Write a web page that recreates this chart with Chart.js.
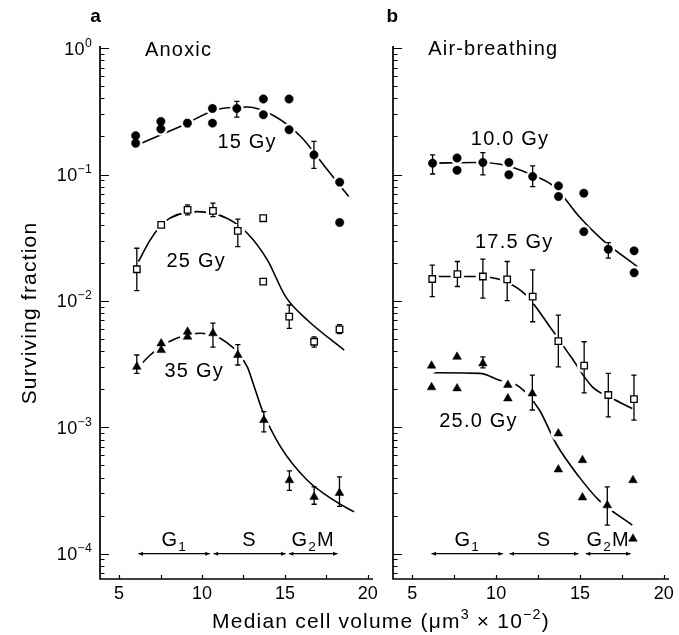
<!DOCTYPE html>
<html><head><meta charset="utf-8">
<script src="https://cdn.jsdelivr.net/npm/chart.js@4"></script>
<style>
html,body{margin:0;padding:0;background:#fff;}
#wrap{position:relative;width:679px;height:635px;overflow:hidden;}
#ca{position:absolute;left:0;top:0;}
#cb{position:absolute;left:380px;top:0;}
</style></head><body>
<div id="wrap"><canvas id="ca" width="679" height="635"></canvas><canvas id="cb" width="299" height="635"></canvas></div>
<script>
// ---------- DATA ----------
const xTickValues = [5, 7.5, 10, 12.5, 15, 17.5, 20];
const xTickLabels = ['5', '', '10', '', '15', '', '20'];
const yTickValues = [1, 0.1, 0.01, 0.001, 0.0001];
const yTickLabels = ['10^{0}', '10^{−1}', '10^{−2}', '10^{−3}', '10^{−4}'];

// Panel a: Anoxic
const a15x = [6.0, 6.0, 7.52, 7.52, 9.12, 10.63, 10.63, 12.1, 13.7, 13.7, 15.25, 15.25, 16.75, 18.3, 18.3];
const a15y = [0.203, 0.177, 0.263, 0.229, 0.255, 0.333, 0.255, 0.333, 0.396, 0.297, 0.396, 0.226, 0.143, 0.087, 0.0417];
const a15err = [null, null, null, null, [0.24, 0.27], null, null, [0.285, 0.379], null, null, null, null, [0.112, 0.183], null, null];
const a15cx = [6.0, 8.69, 11.1, 12.73, 14.33, 15.95, 17.56, 18.85];
const a15cy = [0.169, 0.240, 0.332, 0.342, 0.292, 0.200, 0.109, 0.067];

const a25x = [6.07, 7.54, 9.13, 10.66, 12.16, 13.69, 13.69, 15.26, 16.76, 18.29];
const a25y = [0.0178, 0.0399, 0.0525, 0.0516, 0.0358, 0.0451, 0.01419, 0.0075, 0.00475, 0.00596];
const a25err = [[0.01205, 0.0261], null, [0.048, 0.0575], [0.0465, 0.0594], [0.0269, 0.0443], null, null, [0.00607, 0.00928], [0.0043, 0.0052], [0.0055, 0.0065]];
const a25cx = [6.17, 6.88, 7.68, 9.7, 11.5, 12.73, 13.94, 15.04, 16.35, 18.57];
const a25cy = [0.0205, 0.0304, 0.0417, 0.0509, 0.0451, 0.0343, 0.0211, 0.0108, 0.00706, 0.00408];

const a35x = [6.07, 7.54, 7.54, 9.13, 9.13, 10.66, 12.16, 13.73, 15.27, 16.76, 18.29];
const a35y = [0.00301, 0.00461, 0.00408, 0.0057, 0.0052, 0.00554, 0.00373, 0.00114, 0.000381, 0.000281, 0.000302];
const a35err = [[0.00267, 0.00373], null, null, null, null, [0.0043, 0.00667], [0.00311, 0.0045], [0.00092, 0.00133], [0.000317, 0.000451], [0.000246, 0.000337], [0.000237, 0.000405]];
const a35cx = [6.27, 6.88, 7.88, 9.9, 11.5, 12.73, 13.0, 13.63, 14.74, 16.35, 17.96, 19.17];
const a35cy = [0.0031, 0.00373, 0.00467, 0.00554, 0.00467, 0.00301, 0.0024, 0.00137, 0.0007, 0.000381, 0.000264, 0.000214];

// Panel b: Air-breathing
const b10x = [6.21, 7.67, 7.67, 9.21, 10.76, 10.76, 12.18, 13.72, 13.72, 15.23, 15.23, 16.69, 18.23, 18.23];
const b10y = [0.123, 0.135, 0.108, 0.1245, 0.1245, 0.0995, 0.0964, 0.0813, 0.067, 0.0712, 0.0353, 0.0256, 0.0249, 0.0167];
const b10err = [[0.101, 0.143], null, null, [0.0995, 0.149], null, null, [0.0803, 0.117], null, null, null, null, [0.0218, 0.0289], null, null];
const b10cx = [6.21, 8.82, 10.5, 11.88, 13.47, 14.95, 16.34, 18.41];
const b10cy = [0.123, 0.1245, 0.119, 0.1026, 0.0803, 0.0465, 0.0304, 0.0187];

const b17x = [6.19, 7.69, 9.21, 10.66, 12.18, 13.71, 15.25, 16.69, 18.22];
const b17y = [0.0149, 0.0163, 0.0156, 0.0148, 0.0108, 0.00481, 0.00307, 0.0018, 0.00167];
const b17err = [[0.0108, 0.0192], [0.013, 0.0205], [0.0105, 0.0214], [0.01004, 0.0205], [0.00684, 0.0176], [0.00301, 0.00773], [0.00187, 0.00475], [0.00121, 0.00267], [0.00114, 0.00259]];
const b17cx = [6.19, 8.82, 9.61, 10.6, 11.79, 13.27, 14.46, 15.74, 16.93, 18.12];
const b17cy = [0.0156, 0.0156, 0.0154, 0.0142, 0.0111, 0.00607, 0.00361, 0.00209, 0.00169, 0.00141];

const b25x = [6.15, 6.15, 7.67, 7.67, 9.21, 10.7, 10.7, 12.16, 13.71, 13.71, 15.15, 15.15, 16.63, 18.16, 18.16];
const b25y = [0.00307, 0.00207, 0.00361, 0.00203, 0.0032, 0.00216, 0.00169, 0.00185, 0.000893, 0.000463, 0.000549, 0.000278, 0.000241, 0.000381, 0.000131];
const b25err = [null, null, null, null, [0.00295, 0.0036], null, null, [0.00137, 0.00259], null, null, null, null, [0.000168, 0.000337], null, null];
const b25cx = [6.25, 9.02, 10.2, 11.39, 12.58, 13.57, 14.95, 16.14, 18.12];
const b25cy = [0.0027, 0.00267, 0.00236, 0.00209, 0.00137, 0.000744, 0.000405, 0.000264, 0.000168];

// Cell-cycle phases
const phaseNames = ['G_{1}', 'S', 'G_{2}M'];
const phaseRangesA = [[6.17, 10.47], [10.7, 15.04], [15.24, 18.17]];
const phaseRangesB = [[6.15, 10.4], [10.8, 14.91], [15.35, 18.02]];

// ---------- HELPERS ----------
const FONT = '"Liberation Sans", Arial, Helvetica, sans-serif';
const zip = (xs, ys) => xs.map((v, i) => ({ x: v, y: ys[i] }));

function drawRich(ctx, str, x, y, size, align, spacing, bold) {
  const parts = [];
  const re = /\^\{([^}]*)\}|_\{([^}]*)\}|([^\^_]+)/g;
  let m;
  while ((m = re.exec(str))) {
    if (m[1] !== undefined) parts.push({ t: m[1], k: 'sup' });
    else if (m[2] !== undefined) parts.push({ t: m[2], k: 'sub' });
    else parts.push({ t: m[3], k: 'n' });
  }
  if ('letterSpacing' in ctx) ctx.letterSpacing = (spacing || 0) + 'px';
  let w = 0;
  parts.forEach(p => {
    p.fs = p.k === 'n' ? size : size * 0.68;
    ctx.font = (bold ? 'bold ' : '') + p.fs + 'px ' + FONT;
    p.w = ctx.measureText(p.t).width;
    w += p.w;
  });
  let cx = align === 'center' ? x - w / 2 : align === 'right' ? x - w : x;
  ctx.textAlign = 'left';
  ctx.textBaseline = 'alphabetic';
  ctx.fillStyle = '#000';
  parts.forEach(p => {
    ctx.font = (bold ? 'bold ' : '') + p.fs + 'px ' + FONT;
    const dy = p.k === 'sup' ? -size * 0.45 : p.k === 'sub' ? size * 0.25 : 0;
    ctx.fillText(p.t, cx, y + dy);
    cx += p.w;
  });
  if ('letterSpacing' in ctx) ctx.letterSpacing = '0px';
}

function seriesSets(xs, ys, errs, cx, cy, style, r, fill) {
  return [
    { data: zip(cx, cy), showLine: true, borderColor: '#000', borderWidth: 1.6, pointRadius: 0,
      cubicInterpolationMode: 'monotone', fill: false, order: 3 },
    { data: zip(xs, ys), showLine: false, pointRadius: r + 2.6, pointStyle: 'circle',
      backgroundColor: '#fff', borderWidth: 0, order: 2 },
    { data: zip(xs, ys), showLine: false, pointRadius: r, pointStyle: style,
      backgroundColor: fill, borderColor: '#000', borderWidth: style === 'rect' ? 1.3 : 0.5,
      errs: errs, order: 1 }
  ];
}

function makePlugin(opts) {
  return {
    id: 'deco' + opts.id,
    beforeDatasetDraw(chart, args) {
      const ds = chart.data.datasets[args.index];
      if (!ds.errs) return;
      const { ctx, scales: { x, y } } = chart;
      ctx.save();
      ctx.strokeStyle = '#000';
      ctx.lineWidth = 1.3;
      ds.errs.forEach((e, i) => {
        if (!e) return;
        const px = x.getPixelForValue(ds.data[i].x);
        const p1 = y.getPixelForValue(e[0]), p2 = y.getPixelForValue(e[1]);
        ctx.beginPath();
        ctx.moveTo(px, p1); ctx.lineTo(px, p2);
        ctx.moveTo(px - 2.6, p1); ctx.lineTo(px + 2.6, p1);
        ctx.moveTo(px - 2.6, p2); ctx.lineTo(px + 2.6, p2);
        ctx.stroke();
      });
      ctx.restore();
    },
    afterDraw(chart) {
      const { ctx, chartArea: { left, right, top, bottom }, scales: { x, y } } = chart;
      ctx.save();
      ctx.strokeStyle = '#000';
      // axes lines
      ctx.lineWidth = 1.7;
      ctx.beginPath();
      ctx.moveTo(left, top); ctx.lineTo(left, bottom); ctx.lineTo(right + 1, bottom);
      ctx.stroke();
      // y ticks (inward)
      ctx.lineWidth = 1.2;
      ctx.beginPath();
      for (let e = -5; e <= 0; e++) {
        for (let mm = 1; mm <= 9; mm++) {
          const v = mm * Math.pow(10, e);
          if (v < y.min || v > y.max) continue;
          const py = Math.round(y.getPixelForValue(v)) + 0.5;
          const len = mm === 1 ? 9 : 4.5;
          ctx.moveTo(left, py); ctx.lineTo(left + len, py);
        }
      }
      // x ticks (inward)
      xTickValues.forEach(v => {
        const px = Math.round(x.getPixelForValue(v)) + 0.5;
        ctx.moveTo(px, bottom); ctx.lineTo(px, bottom - 4);
      });
      ctx.stroke();
      // y tick labels
      if (opts.yLabels) {
        yTickValues.forEach((v, i) => {
          const py = y.getPixelForValue(v);
          drawRich(ctx, yTickLabels[i], left - 8, py + 6.5, 18, 'right', 0.3);
        });
      }
      // phase arrows
      const ay = y.getPixelForValue(1e-4);
      ctx.lineWidth = 1.3;
      opts.phases.forEach((rg, i) => {
        const x1 = x.getPixelForValue(rg[0]), x2 = x.getPixelForValue(rg[1]);
        ctx.beginPath(); ctx.moveTo(x1, ay); ctx.lineTo(x2, ay); ctx.stroke();
        ctx.beginPath();
        ctx.moveTo(x1, ay); ctx.lineTo(x1 + 4.5, ay - 2); ctx.lineTo(x1 + 4.5, ay + 2); ctx.closePath();
        ctx.moveTo(x2, ay); ctx.lineTo(x2 - 4.5, ay - 2); ctx.lineTo(x2 - 4.5, ay + 2); ctx.closePath();
        ctx.fillStyle = '#000'; ctx.fill();
        drawRich(ctx, phaseNames[i], x.getPixelForValue((rg[0] + rg[1]) / 2), y.getPixelForValue(1.15e-4), 20, 'center', 1.2);
      });
      // text annotations
      opts.texts.forEach(t => {
        drawRich(ctx, t.s, x.getPixelForValue(t.x), y.getPixelForValue(t.y), t.size || 20, t.align || 'center', 1.2, t.bold);
      });
      if (opts.extra) opts.extra(ctx, chart);
      ctx.restore();
    }
  };
}

function makeChart(canvas, datasets, yWidth, padRight, plugin) {
  return new Chart(canvas, {
    type: 'scatter',
    data: { datasets },
    options: {
      responsive: false, animation: false, devicePixelRatio: 1,
      layout: { padding: { top: 46, right: padRight, bottom: 0, left: 0 } },
      plugins: { legend: { display: false }, tooltip: { enabled: false } },
      scales: {
        x: {
          type: 'linear', min: 3.85, max: 20.25,
          grid: { display: false, drawTicks: false }, border: { display: false },
          afterBuildTicks: s => { s.ticks = xTickValues.map(v => ({ value: v })); },
          ticks: {
            autoSkip: false, maxRotation: 0, padding: 4, color: '#000',
            font: { family: FONT, size: 18 },
            callback: (v) => { const i = xTickValues.indexOf(v); return i >= 0 ? xTickLabels[i] : ''; }
          },
          afterFit: s => { s.height = 56; }
        },
        y: {
          type: 'logarithmic', min: 6.3e-5, max: 1.04,
          grid: { display: false }, border: { display: false },
          ticks: { display: false },
          afterFit: s => { s.width = yWidth; }
        }
      }
    },
    plugins: [plugin]
  });
}

// ---------- PANEL A ----------
const dsA = [].concat(
  seriesSets(a15x, a15y, a15err, a15cx, a15cy, 'circle', 4.2, '#000'),
  seriesSets(a25x, a25y, a25err, a25cx, a25cy, 'rect', 4.6, '#fff'),
  seriesSets(a35x, a35y, a35err, a35cx, a35cy, 'triangle', 5.0, '#000')
);
makeChart(document.getElementById('ca'), dsA, 100, 307, makePlugin({
  id: 'A', yLabels: true, phases: phaseRangesA,
  texts: [
    { s: 'Anoxic', x: 6.56, y: 0.872, align: 'left' },
    { s: '15 Gy', x: 12.72, y: 0.162 },
    { s: '25 Gy', x: 9.65, y: 0.01866 },
    { s: '35 Gy', x: 9.53, y: 0.002507 },
    { s: 'a', x: 3.62, y: 1.6, bold: true, size: 19 }
  ],
  extra: (ctx, chart) => {
    // y-axis title
    ctx.save();
    ctx.translate(36, 313);
    ctx.rotate(-Math.PI / 2);
    drawRich(ctx, 'Surviving fraction', 0, 0, 21, 'center', 1.2);
    ctx.restore();
    // x-axis title
    drawRich(ctx, 'Median cell volume (μm^{3} × 10^{−2})', 381, 628, 21, 'center', 1.2);
  }
}));

// ---------- PANEL B ----------
const dsB = [].concat(
  seriesSets(b10x, b10y, b10err, b10cx, b10cy, 'circle', 4.2, '#000'),
  seriesSets(b17x, b17y, b17err, b17cx, b17cy, 'rect', 4.6, '#fff'),
  seriesSets(b25x, b25y, b25err, b25cx, b25cy, 'triangle', 5.0, '#000')
);
makeChart(document.getElementById('cb'), dsB, 13, 11, makePlugin({
  id: 'B', yLabels: false, phases: phaseRangesB,
  texts: [
    { s: 'Air-breathing', x: 5.95, y: 0.888, align: 'left' },
    { s: '10.0 Gy', x: 10.83, y: 0.1719 },
    { s: '17.5 Gy', x: 11.08, y: 0.0261 },
    { s: '25.0 Gy', x: 8.95, y: 0.001007 },
    { s: 'b', x: 3.85, y: 1.6, bold: true, size: 19 }
  ]
}));
</script>
</body></html>
